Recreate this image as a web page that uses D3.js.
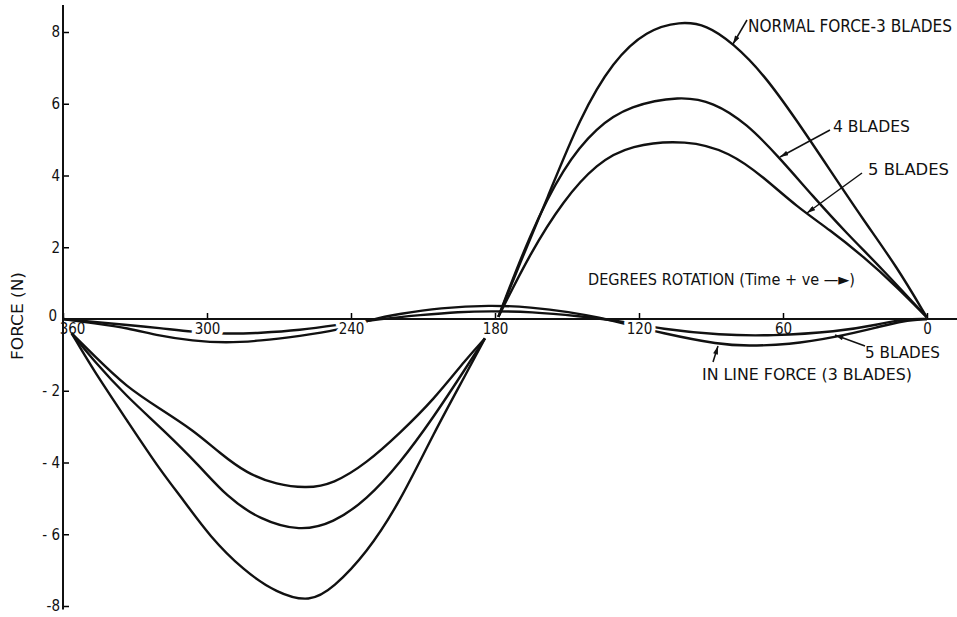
<!DOCTYPE html>
<html>
<head>
<meta charset="utf-8">
<script src="https://cdn.jsdelivr.net/npm/d3@7"></script>
<style>
  body { margin: 0; background: #fff; }
  text { font-family: "DejaVu Sans Condensed", "DejaVu Sans", sans-serif; fill: #111; }
</style>
</head>
<body>
<div id="chart"></div>
<script>
// values, as [degrees rotation, force (N)]
const normal3Neg = [[356.4,-0.4],[347.4,-1.42],[333.5,-2.81],[319.6,-4.21],[309.9,-5.04],[298.75,-6.07],[284.9,-7.0],[271,-7.64],[257.1,-7.9],[247.4,-7.5],[233.5,-6.53],[219.6,-5.1],[205.7,-3.2],[191.8,-1.5],[184.2,-0.54]];
const normal4Neg = [[356.4,-0.4],[347.4,-1.15],[333.5,-2.16],[318.2,-3.09],[302.9,-4.11],[291.8,-4.95],[277.9,-5.6],[261.25,-5.92],[247.4,-5.69],[233.5,-5.04],[219.6,-4.02],[205.7,-2.75],[191.8,-1.33],[184.2,-0.54]];
const normal5Neg = [[356.4,-0.4],[347.4,-1.0],[333.5,-1.9],[319.6,-2.5],[305.7,-3.1],[294.6,-3.74],[283.5,-4.3],[271,-4.62],[258.5,-4.72],[247.4,-4.6],[233.5,-4.02],[219.6,-3.18],[205.7,-2.26],[191.8,-1.1],[184.2,-0.54]];

const normal3Pos = [[178.6,0.06],[169.6,1.56],[158.5,3.31],[144.6,5.63],[130.7,7.21],[116.8,8.05],[102.9,8.3],[91.8,8.2],[80.7,7.68],[68.2,6.84],[54.3,5.54],[40.4,4.15],[26.5,2.76],[12.6,1.46],[0.1,0.05]];
const normal4Pos = [[178.6,0.06],[165.4,2.38],[151.5,4.24],[137.6,5.36],[123.75,5.95],[102.9,6.22],[89,6.05],[75.1,5.45],[61.25,4.48],[47.4,3.41],[33.5,2.39],[19.6,1.46],[0.1,0.05]];
const normal5Pos = [[178.6,0.06],[165.4,1.83],[151.5,3.31],[137.6,4.34],[123.75,4.85],[100.1,5.0],[82.1,4.65],[68.2,3.96],[54.3,3.13],[40.4,2.48],[26.5,1.74],[12.6,0.9],[0.1,0.05]];

const inline3 = [[360,0],[347,-0.12],[333,-0.25],[320,-0.47],[306,-0.61],[292,-0.67],[278,-0.61],[261,-0.47],[246,-0.33],[231,0],[220,0.14],[203,0.31],[182,0.39],[165,0.33],[149,0.2],[136,0.03],[127,-0.11],[111,-0.39],[86,-0.72],[75,-0.75],[58,-0.72],[37.5,-0.5],[20,-0.22],[10,-0.05],[0,0]];
const inline5 = [[360,0],[347,-0.08],[333,-0.17],[320,-0.25],[306,-0.36],[292,-0.42],[278,-0.39],[261,-0.31],[246,-0.17],[228,0],[211,0.11],[195,0.2],[182,0.22],[165,0.2],[145,0.08],[127,-0.06],[111,-0.28],[86,-0.45],[65,-0.47],[37.5,-0.36],[20,-0.15],[10,0],[0,0]];

const xTicks = [360, 300, 240, 180, 120, 60, 0];
const yTicks = [-8, -6, -4, -2, 0, 2, 4, 6, 8];
const haloTicks = [300, 240, 120];

const width = 957, height = 617;

const x = d3.scaleLinear().domain([360, 0]).range([63, 927]);
const y = d3.scaleLinear().domain([-8, 8]).range([606, 32]);

const svg = d3.select("#chart").append("svg")
  .attr("width", width)
  .attr("height", height);

svg.append("defs").append("marker")
  .attr("id", "arrow")
  .attr("viewBox", "0 0 10 6")
  .attr("refX", 10).attr("refY", 3)
  .attr("markerWidth", 9).attr("markerHeight", 5)
  .attr("markerUnits", "userSpaceOnUse")
  .attr("orient", "auto")
  .append("path")
  .attr("d", "M0,0L10,3L0,6Z")
  .attr("fill", "#111");

const line = d3.line()
  .x(d => x(d[0]))
  .y(d => y(d[1]))
  .curve(d3.curveBasis);

// in line force curves sit under the tick labels, which break them
svg.append("g").selectAll("path")
  .data([inline3, inline5])
  .enter().append("path")
  .attr("d", line)
  .attr("fill", "none")
  .attr("stroke", "#111")
  .attr("stroke-width", 2.4);

// x axis
const xAxis = svg.append("g")
  .attr("transform", "translate(0," + y(0) + ")")
  .call(d3.axisBottom(x).tickValues(xTicks).tickSizeInner(-6).tickSizeOuter(0).tickPadding(4))
  .attr("font-size", 15)
  .attr("font-family", null);
xAxis.select(".domain").remove();
xAxis.selectAll(".tick line").attr("stroke-width", 1.5);
xAxis.selectAll(".tick text")
  .filter(d => d === 360)
  .attr("dx", 9);
xAxis.selectAll(".tick text")
  .filter(d => haloTicks.includes(d))
  .attr("stroke", "#fff")
  .attr("stroke-width", 8)
  .attr("stroke-linejoin", "round")
  .attr("paint-order", "stroke");

// y axis
const yAxis = svg.append("g")
  .attr("transform", "translate(" + x(360) + ",0)")
  .call(d3.axisLeft(y).tickValues(yTicks).tickSizeInner(-6).tickSizeOuter(0).tickPadding(3)
    .tickFormat(d => d < 0 ? (d === -8 ? "-8" : "- " + Math.abs(d)) : d))
  .attr("font-size", 15)
  .attr("font-family", null);
yAxis.select(".domain").remove();
yAxis.selectAll(".tick line").attr("stroke-width", 1.5);
yAxis.selectAll(".tick text")
  .filter(d => d === 0)
  .attr("dy", "0.1em")
  .attr("dx", -3);

// axis lines
svg.append("line")
  .attr("x1", x(360)).attr("x2", width)
  .attr("y1", y(0)).attr("y2", y(0))
  .attr("stroke", "#111").attr("stroke-width", 2);
svg.append("line")
  .attr("x1", x(360)).attr("x2", x(360))
  .attr("y1", y(8.75)).attr("y2", y(-8.1))
  .attr("stroke", "#111").attr("stroke-width", 2);

// normal force curves
svg.append("g").selectAll("path")
  .data([normal3Neg, normal4Neg, normal5Neg, normal3Pos, normal4Pos, normal5Pos])
  .enter().append("path")
  .attr("d", line)
  .attr("fill", "none")
  .attr("stroke", "#111")
  .attr("stroke-width", 2.4);

// axis titles
svg.append("text")
  .attr("transform", "translate(23,316) rotate(-90)")
  .attr("text-anchor", "middle")
  .attr("font-size", 15)
  .attr("textLength", 88)
  .attr("lengthAdjust", "spacingAndGlyphs")
  .text("FORCE (N)");

svg.append("text")
  .attr("x", 588).attr("y", 285)
  .attr("font-size", 16)
  .attr("textLength", 267)
  .attr("lengthAdjust", "spacingAndGlyphs")
  .text("DEGREES ROTATION (Time + ve —►)");

// curve labels with leaders
function note(txt, tx, ty, len, size, x1, y1, x2, y2) {
  svg.append("text")
    .attr("x", tx).attr("y", ty)
    .attr("font-size", size)
    .attr("textLength", len)
    .attr("lengthAdjust", "spacingAndGlyphs")
    .text(txt);
  svg.append("line")
    .attr("x1", x1).attr("y1", y1)
    .attr("x2", x2).attr("y2", y2)
    .attr("stroke", "#111").attr("stroke-width", 1.5)
    .attr("marker-end", "url(#arrow)");
}

note("NORMAL FORCE-3 BLADES", 748, 31.5, 204, 17, 747, 20, 733, 44);
note("4 BLADES", 833, 131.5, 77, 16, 830, 130, 780, 157);
note("5 BLADES", 868, 175, 81, 16, 862, 173, 807, 213);
note("5 BLADES", 865, 358, 75, 16, 865, 346, 835, 335);
note("IN LINE FORCE (3 BLADES)", 702, 380, 210, 16, 713, 362, 718, 346);
</script>
</body>
</html>
